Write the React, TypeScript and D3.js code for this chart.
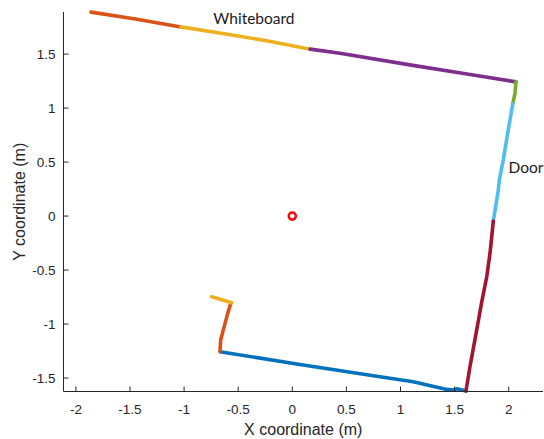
import React from "react";
import * as d3 from "d3";

type Pt = [number, number];

// Segment data (x, y in metres)
const wallTopLeft: Pt[] = [[-1.86, 1.889], [-1.45, 1.825], [-1.03, 1.752]];
const wallWhiteboard: Pt[] = [[-1.03, 1.752], [-0.6, 1.684], [-0.2, 1.617], [0.164, 1.546]];
const wallTopRight: Pt[] = [[0.164, 1.546], [0.44, 1.508], [1.1, 1.398], [1.6, 1.318], [2.067, 1.243]];
const cornerRight: Pt[] = [[2.067, 1.243], [2.058, 1.136], [2.037, 1.037]];
const wallDoor: Pt[] = [[2.037, 1.037], [1.98, 0.704], [1.95, 0.519], [1.913, 0.333], [1.904, 0.241], [1.858, -0.046]];
const wallRight: Pt[] = [[1.858, -0.046], [1.835, -0.27], [1.827, -0.345], [1.797, -0.562], [1.75, -0.8], [1.704, -1.056], [1.642, -1.395], [1.605, -1.62]];
const wallBottom: Pt[] = [[-0.668, -1.256], [0.07, -1.375], [0.81, -1.488], [1.118, -1.534], [1.427, -1.605], [1.488, -1.611], [1.52, -1.6], [1.605, -1.62]];
const wallLeftUp: Pt[] = [[-0.668, -1.256], [-0.662, -1.148], [-0.638, -1.056], [-0.597, -0.901], [-0.567, -0.803]];
const wallLeftTop: Pt[] = [[-0.56, -0.803], [-0.668, -0.771], [-0.745, -0.747]];

const segments: { pts: Pt[]; color: string }[] = [
  { pts: wallBottom, color: "#0072BD" },
  { pts: wallLeftUp, color: "#D95319" },
  { pts: wallLeftTop, color: "#EDB120" },
  { pts: wallTopLeft, color: "#D95319" },
  { pts: wallWhiteboard, color: "#EDB120" },
  { pts: wallTopRight, color: "#7E2F8E" },
  { pts: cornerRight, color: "#77AC30" },
  { pts: wallDoor, color: "#4DBEEE" },
  { pts: wallRight, color: "#A2142F" },
];

const robot: Pt = [0, 0];

const xTicks = [-2, -1.5, -1, -0.5, 0, 0.5, 1, 1.5, 2];
const yTicks = [-1.5, -1, -0.5, 0, 0.5, 1, 1.5];
const xLabel = "X coordinate (m)";
const yLabel = "Y coordinate (m)";
const annotations: { text: string; x: number; y: number }[] = [
  { text: "Whiteboard", x: -0.73, y: 1.778 },
  { text: "Door", x: 1.998, y: 0.395 },
];

export default function App() {
  const W = 544, H = 439;
  const left = 63.5, right = 543, top = 12, bottom = 391.5;
  const x = d3.scaleLinear().domain([-2.1146, 2.317]).range([left, right]);
  const y = d3.scaleLinear().domain([-1.62, 1.89]).range([bottom - 0.5, top]);
  const line = d3.line<Pt>().x(d => x(d[0])).y(d => y(d[1])).curve(d3.curveLinear);
  const axisColor = "#262626";
  const font = "'Liberation Sans', Arial, sans-serif";
  const fmt = (v: number) => String(v);

  return (
    <svg width={W} height={H} style={{ position: "absolute", left: 0, top: 0, display: "block", background: "#fff" }}>
      {segments.map((s, i) => (
        <path key={i} d={line(s.pts) || ""} fill="none" stroke={s.color} strokeWidth={3.6} strokeLinecap="round" strokeLinejoin="round" />
      ))}
      <circle cx={x(robot[0])} cy={y(robot[1])} r={3.6} fill="none" stroke="#FF0000" strokeWidth={2.4} />

      {/* axes */}
      <line x1={left} x2={left} y1={top} y2={bottom} stroke={axisColor} strokeWidth={1} />
      <line x1={left} x2={right} y1={bottom} y2={bottom} stroke={axisColor} strokeWidth={1} />
      {xTicks.map(t => (
        <g key={"x" + t}>
          <line x1={x(t)} x2={x(t)} y1={bottom} y2={bottom - 5} stroke={axisColor} />
          <text x={x(t)} y={413.5} textAnchor="middle" fontFamily={font} fontSize={13.5} fill={axisColor}>{fmt(t)}</text>
        </g>
      ))}
      {yTicks.map(t => (
        <g key={"y" + t}>
          <line x1={left} x2={left + 5} y1={y(t)} y2={y(t)} stroke={axisColor} />
          <text x={55.5} y={y(t) + 4.8} textAnchor="end" fontFamily={font} fontSize={13.5} fill={axisColor}>{fmt(t)}</text>
        </g>
      ))}
      <text x={(left + right) / 2} y={435} textAnchor="middle" fontFamily={font} fontSize={16} fill={axisColor}>{xLabel}</text>
      <text transform={`translate(25,${(top + bottom) / 2}) rotate(-90)`} textAnchor="middle" fontFamily={font} fontSize={16} fill={axisColor}>{yLabel}</text>

      {annotations.map(a => (
        <text key={a.text} x={x(a.x)} y={y(a.y)} fontFamily="Lato, Carlito, Calibri, sans-serif" fontSize={15.5} fill="#1a1a1a">{a.text}</text>
      ))}
    </svg>
  );
}
